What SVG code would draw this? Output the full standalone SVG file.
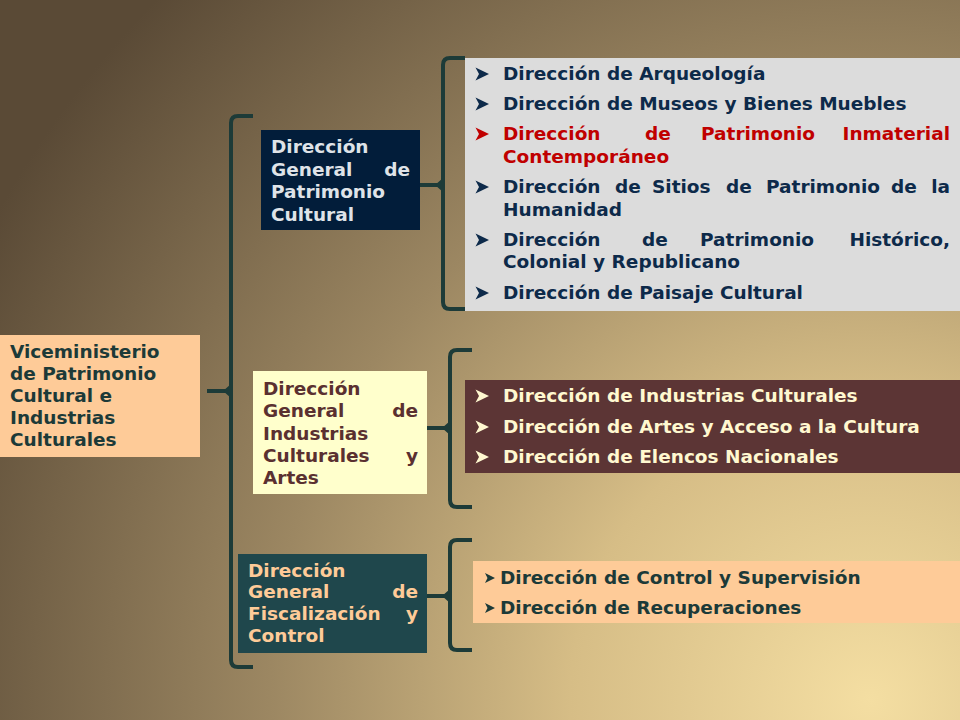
<svg xmlns="http://www.w3.org/2000/svg" xmlns:xlink="http://www.w3.org/1999/xlink" width="960" height="720" viewBox="0 0 960 720">
<defs>
<radialGradient id="bg" cx="870" cy="700" r="1000" gradientUnits="userSpaceOnUse">
<stop offset="0" stop-color="#f4dea2"/>
<stop offset="0.3" stop-color="#d6bd86"/>
<stop offset="0.6" stop-color="#9c8762"/>
<stop offset="1" stop-color="#5a4a36"/>
</radialGradient>
<path id="arr" d="M-0.5,-6.5 L13,0 L-0.5,6.5 L3,0 Z"/>
<path id="arrs" d="M0,-5 L10,0 L0,5 L2.5,0 Z"/>
</defs>
<style>
.t{font-family:"DejaVu Sans",Verdana,sans-serif;font-weight:bold;font-size:18.5px}
.br{fill:none;stroke:#1d3b38;stroke-width:4;stroke-linecap:butt}
.nub{fill:#1d3b38}
</style>
<rect width="960" height="720" fill="url(#bg)"/>

<g id="connectors">
<path class="br" d="M253,116 L238,116 Q231,116 231,123 L231,660 Q231,667 238,667 L253,667"/>
<path class="br" d="M207,391 L231,391"/>
<path class="nub" d="M223,391 L231,384 L231,398 Z"/>
<path class="br" d="M465,58 L450,58 Q443,58 443,65 L443,302 Q443,309 450,309 L465,309"/>
<path class="br" d="M420,185 L443,185"/>
<path class="nub" d="M435,185 L443,178 L443,192 Z"/>
<path class="br" d="M472,350 L457,350 Q450,350 450,357 L450,500 Q450,507 457,507 L472,507"/>
<path class="br" d="M426,428 L450,428"/>
<path class="nub" d="M442,428 L450,421 L450,435 Z"/>
<path class="br" d="M472,540 L457,540 Q450,540 450,547 L450,643 Q450,650 457,650 L472,650"/>
<path class="br" d="M427,596 L450,596"/>
<path class="nub" d="M442,596 L450,589 L450,603 Z"/>
</g>

<g id="vice">
<rect x="0" y="335" width="200" height="122" fill="#fecb98"/>
<text class="t" fill="#1c3a38">
<tspan x="10" y="358">Viceministerio</tspan>
<tspan x="10" y="380">de Patrimonio</tspan>
<tspan x="10" y="402">Cultural e</tspan>
<tspan x="10" y="424">Industrias</tspan>
<tspan x="10" y="446">Culturales</tspan>
</text>
</g>

<g id="dg-patrimonio">
<rect x="261" y="130" width="159" height="100" fill="#021d3a"/>
<text class="t" fill="#dfe3e8">
<tspan x="271" y="153">Dirección</tspan>
<tspan x="271" y="176">General</tspan>
<tspan x="271" y="198">Patrimonio</tspan>
<tspan x="271" y="221">Cultural</tspan>
</text>
<text class="t" fill="#dfe3e8" x="410" y="176" text-anchor="end">de</text>
</g>

<g id="list-patrimonio">
<rect x="465" y="58" width="495" height="253" fill="#dcdcdc"/>
<use xlink:href="#arr" x="476" y="74" fill="#0d2a4a"/>
<use xlink:href="#arr" x="476" y="104" fill="#0d2a4a"/>
<use xlink:href="#arr" x="476" y="134" fill="#c00000"/>
<use xlink:href="#arr" x="476" y="187" fill="#0d2a4a"/>
<use xlink:href="#arr" x="476" y="240" fill="#0d2a4a"/>
<use xlink:href="#arr" x="476" y="293" fill="#0d2a4a"/>
<text class="t" fill="#0d2a4a" x="503" y="80">Dirección de Arqueología</text>
<text class="t" fill="#0d2a4a" x="503" y="110">Dirección de Museos y Bienes Muebles</text>
<text class="t" fill="#c00000" y="140"><tspan x="503">Dirección</tspan><tspan x="645">de</tspan><tspan x="701">Patrimonio</tspan></text>
<text class="t" fill="#c00000" x="950" y="140" text-anchor="end">Inmaterial</text>
<text class="t" fill="#c00000" x="503" y="163">Contemporáneo</text>
<text class="t" fill="#0d2a4a" y="193"><tspan x="503">Dirección</tspan><tspan x="615">de</tspan><tspan x="652">Sitios</tspan><tspan x="726">de</tspan><tspan x="766">Patrimonio</tspan><tspan x="891">de</tspan></text>
<text class="t" fill="#0d2a4a" x="950" y="193" text-anchor="end">la</text>
<text class="t" fill="#0d2a4a" x="503" y="216">Humanidad</text>
<text class="t" fill="#0d2a4a" y="246"><tspan x="503">Dirección</tspan><tspan x="642">de</tspan><tspan x="700">Patrimonio</tspan></text>
<text class="t" fill="#0d2a4a" x="950" y="246" text-anchor="end">Histórico,</text>
<text class="t" fill="#0d2a4a" x="503" y="268">Colonial y Republicano</text>
<text class="t" fill="#0d2a4a" x="503" y="299">Dirección de Paisaje Cultural</text>
</g>

<g id="dg-industrias">
<rect x="253" y="371" width="174" height="123" fill="#ffffcc"/>
<text class="t" fill="#5a3030">
<tspan x="263" y="395">Dirección</tspan>
<tspan x="263" y="417">General</tspan>
<tspan x="263" y="440">Industrias</tspan>
<tspan x="263" y="462">Culturales</tspan>
<tspan x="263" y="484">Artes</tspan>
</text>
<text class="t" fill="#5a3030" x="418" y="417" text-anchor="end">de</text>
<text class="t" fill="#5a3030" x="418" y="462" text-anchor="end">y</text>
</g>

<g id="list-industrias">
<rect x="465" y="380" width="495" height="93" fill="#5c3535"/>
<use xlink:href="#arr" x="476" y="396" fill="#fff8d0"/>
<use xlink:href="#arr" x="476" y="427" fill="#fff8d0"/>
<use xlink:href="#arr" x="476" y="457" fill="#fff8d0"/>
<text class="t" fill="#fff8d0" x="503" y="402">Dirección de Industrias Culturales</text>
<text class="t" fill="#fff8d0" x="503" y="433">Dirección de Artes y Acceso a la Cultura</text>
<text class="t" fill="#fff8d0" x="503" y="463">Dirección de Elencos Nacionales</text>
</g>

<g id="dg-fiscalizacion">
<rect x="238" y="554" width="189" height="99" fill="#1f474c"/>
<text class="t" fill="#fecb98">
<tspan x="248" y="577">Dirección</tspan>
<tspan x="248" y="598">General</tspan>
<tspan x="248" y="620">Fiscalización</tspan>
<tspan x="248" y="642">Control</tspan>
</text>
<text class="t" fill="#fecb98" x="418" y="598" text-anchor="end">de</text>
<text class="t" fill="#fecb98" x="418" y="620" text-anchor="end">y</text>
</g>

<g id="list-fiscalizacion">
<rect x="473" y="561" width="487" height="62" fill="#fecb98"/>
<use xlink:href="#arrs" x="485" y="578" fill="#1c3a38"/>
<use xlink:href="#arrs" x="485" y="608" fill="#1c3a38"/>
<text class="t" fill="#1c3a38" x="500" y="584">Dirección de Control y Supervisión</text>
<text class="t" fill="#1c3a38" x="500" y="614">Dirección de Recuperaciones</text>
</g>
</svg>
